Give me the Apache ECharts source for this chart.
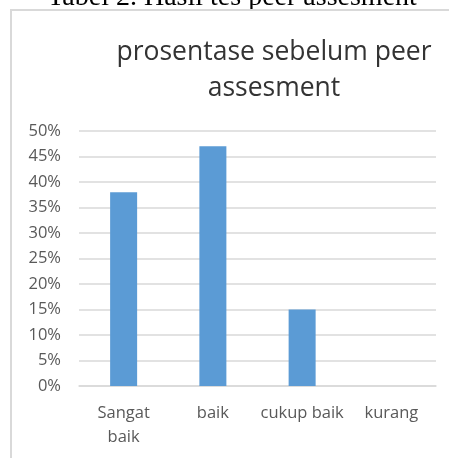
<!DOCTYPE html>
<html>
<head>
<meta charset="utf-8">
<script src="https://cdn.jsdelivr.net/npm/echarts@6/dist/echarts.min.js"></script>
<style>
html,body{margin:0;padding:0;background:#fff;}
#chart{width:449px;height:458px;}
</style>
</head>
<body>
<div id="chart"></div>
<script>
const categories = ['Sangat\nbaik', 'baik', 'cukup baik', 'kurang'];
const values = [0.38, 0.47, 0.15, 0];
const yTicks = [0, 0.05, 0.10, 0.15, 0.20, 0.25, 0.30, 0.35, 0.40, 0.45, 0.50];
const titleText = 'prosentase sebelum peer\nassesment';
const captionText = 'Tabel 2. Hasil tes peer assesment';

const chart = echarts.init(document.getElementById('chart'), null, {renderer: 'canvas'});
chart.setOption({
  animation: false,
  backgroundColor: '#fff',
  title: {
    text: titleText,
    left: 269,
    top: 29,
    textAlign: 'center',
    textStyle: {fontFamily: 'Open Sans', fontSize: 26.5, fontWeight: 'normal', color: '#333333', lineHeight: 36}
  },
  graphic: [
    {type: 'text', x: 232, y: 12, z: 0, style: {text: captionText, align: 'center', verticalAlign: 'bottom', font: '28px "Liberation Serif"', fill: '#000'}, silent: true},
    {type: 'rect', z: 1, shape: {x: 11, y: 10, width: 460, height: 470}, style: {fill: '#fff', stroke: '#d9d9d9', lineWidth: 2}, silent: true}
  ],
  grid: {left: 79, right: 13, top: 131, bottom: 72, containLabel: false, z: 5},
  xAxis: {
    type: 'category',
    data: categories,
    z: 5,
    axisLine: {show: true, lineStyle: {color: '#d9d9d9', width: 1.5}},
    axisTick: {show: false},
    axisLabel: {color: '#595959', fontFamily: 'Open Sans', fontSize: 16.5, lineHeight: 24, margin: 15, interval: 0}
  },
  yAxis: {
    type: 'value',
    z: 5,
    min: 0, max: 0.5, interval: 0.05,
    axisLine: {show: false},
    axisTick: {show: false},
    splitLine: {lineStyle: {color: '#d9d9d9', width: 1.5}},
    axisLabel: {color: '#595959', fontFamily: 'Open Sans', fontSize: 16.5, margin: 18,
      formatter: v => Math.round(v * 100) + '%'}
  },
  series: [{
    type: 'bar',
    z: 6,
    data: values,
    barWidth: 27,
    itemStyle: {color: '#5b9bd5'}
  }]
});
</script>
</body>
</html>
